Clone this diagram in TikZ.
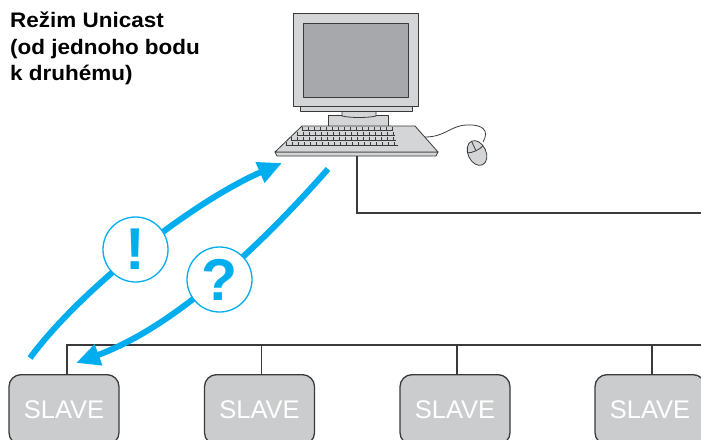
\documentclass[tikz,border=0pt]{standalone}
\usepackage{fontspec}
\setmainfont{Liberation Sans}
\newfontfamily\headfont[FakeStretch=1.07]{Liberation Sans}
\usetikzlibrary{arrows.meta}
\definecolor{flowblue}{HTML}{00AEEF}
\definecolor{boxgray}{HTML}{CBCCCE}
\definecolor{edge}{HTML}{3A3A3C}
\definecolor{bezel}{HTML}{D4D5D7}
\definecolor{screengray}{HTML}{A6A8AB}
\begin{document}
\begin{tikzpicture}[x=1pt,y=-1pt,
  slavebox/.style={draw=edge, line width=1.3pt, fill=boxgray, rounded corners=12pt,
    minimum width=110pt, minimum height=70pt, anchor=north, inner sep=0pt,
    text=white, font=\fontsize{25.5}{30}\selectfont},
  wire/.style={draw=edge, line width=1.3pt},
  part/.style={draw=edge, line width=0.8pt, line join=round},
  flow/.style={draw=flowblue, line width=6pt,
    -{Triangle[length=24pt,width=21pt]}},
  badge/.style={circle, draw=flowblue, line width=1.3pt, fill=white,
    minimum size=65pt, inner sep=0pt, text=flowblue,
    font=\fontsize{59}{64}\selectfont\bfseries},
  titletext/.style={anchor=base west, inner sep=0pt,
    font=\headfont\fontsize{21}{26}\selectfont\bfseries}]
\useasboundingbox (0,0) rectangle (701,439);
\clip (0,0) rectangle (701,439);

% heading
\node[titletext] (t1) at (10,27.5) {Režim Unicast};
\node[titletext] (t2) at (10,54) {(od jednoho bodu};
\node[titletext] (t3) at (10,80) {k druhému)};

% computer: stand and monitor
\draw[part, fill=bezel] (328,115) rectangle (388,126);
\draw[part, fill=bezel] (342,110) -- (342,116) .. controls (350,118) and (368,118) .. (376,116) -- (376,110) -- cycle;
\draw[part, fill=bezel] (300,106) rectangle (412,111);
\draw[part, fill=bezel] (293,13) rectangle (418,106);
\draw[part, fill=screengray] (303,23) rectangle (408,97);

% keyboard
\draw[part, fill=bezel] (275,152) -- (277,156) -- (436,156) -- (438,152) -- cycle;
\draw[part, fill=bezel] (302,126) -- (415,126) -- (438,152) -- (275,152) -- cycle;
\foreach \y in {130,135,140,145} {
  \draw[draw=edge, line width=0.6pt] ({306-(\y-126)*1.04},\y) -- ({393+(\y-130)/3},\y);
  \draw[draw=edge, line width=2.2pt, dash pattern=on 0.7pt off 5.3pt]
    ({306-(\y-126)*1.04},\y-1.6) -- ({393+(\y-130)/3},\y-1.6);
}

% mouse and its cable
\draw[part] (425,137) .. controls (445,137) and (450,126) .. (466,125)
  .. controls (482,124) and (490,130) .. (483,142);
\begin{scope}[rotate around={25:(477,153)}]
  \draw[part, fill=bezel] (477,153) ellipse [x radius=9pt, y radius=13pt];
  \draw[part] (468.5,149) .. controls (473,151) and (481,151) .. (485.5,149);
  \draw[part] (477,140) -- (477,150.5);
\end{scope}

% link from the computer to the right
\coordinate (kb) at (357,156);
\coordinate (linkR) at (701,213);
\draw[wire] (kb) |- (linkR);

% slaves on the bus
\node[slavebox] (s1) at (64,374) {SLAVE};
\node[slavebox] (s2) at (259.5,374) {SLAVE};
\node[slavebox] (s3) at (455,374) {SLAVE};
\node[slavebox] (s4) at (650,374) {SLAVE};
\coordinate (busR) at (701,345);
\draw[wire] ([xshift=3pt]s1.north) |- (busR);
\foreach \s in {s2,s3,s4}
  \draw[wire] ([xshift=2pt]\s.north) -- ([xshift=2pt]\s.north |- busR);

% request / response arrows
\coordinate (up0) at (30,358);
\coordinate (up1) at (282,163);
\coordinate (dn0) at (328,169);
\coordinate (dn1) at (76,363);
\draw[flow] (up0) .. controls (80,290) and (192,202) .. (up1);
\draw[flow] (dn0) .. controls (270,235) and (180,325) .. (dn1);
\node[badge] (ans) at (135.5,249.5) {!};
\node[badge] (ask) at (219.5,279.5) {?};
\end{tikzpicture}
\end{document}
